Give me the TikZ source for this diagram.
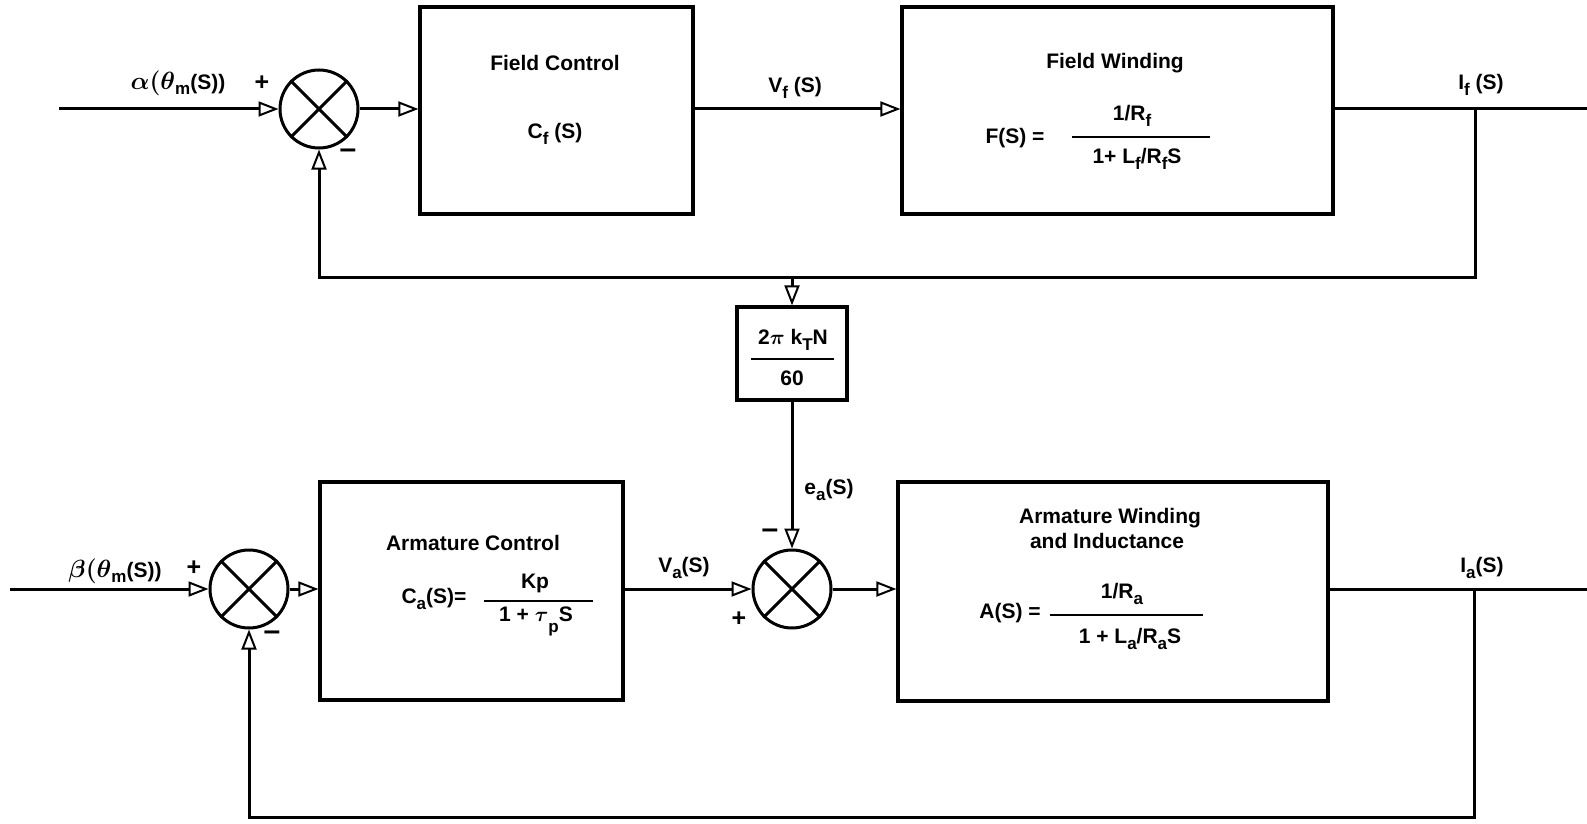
\documentclass[tikz,border=0pt]{standalone}
\usepackage{fontspec}
\setmainfont{Liberation Sans}
\usetikzlibrary{arrows.meta}
\newcommand\mysub[1]{\raisebox{-0.5ex}{\fontsize{17}{17}\selectfont #1}}
\newcommand\minussign{{\fontsize{30}{30}\selectfont\bfseries –}}
\newcommand\plussign{{\fontsize{25}{25}\selectfont\bfseries +}}
\begin{document}
\begin{tikzpicture}[x=1pt,y=-1pt,
  line width=3pt,
  txt/.style={font=\fontsize{21}{25}\selectfont\bfseries\boldmath, inner sep=0pt},
  blk/.style={draw, line width=3.2pt, inner sep=0pt},
  sumj/.style={draw, circle, line width=3pt, minimum size=78pt, inner sep=0pt},
  arr/.style={-{Triangle[open, length=20pt, width=15pt, line width=2pt]}},
  fracline/.style={line width=2.2pt}
]
\useasboundingbox (0,0) rectangle (1587,824);

% ---------- blocks ----------
\node[blk, minimum width=273pt, minimum height=207pt] (fc) at (556.5,110.5) {};
\node[blk, minimum width=431pt, minimum height=207pt] (fw) at (1117.5,110.5) {};
\node[blk, minimum width=110pt, minimum height=93pt] (gain) at (792,353.5) {};
\node[blk, minimum width=303pt, minimum height=218pt] (ac) at (471.5,591) {};
\node[blk, minimum width=430pt, minimum height=219pt] (aw) at (1113,591.5) {};

% ---------- summing junctions ----------
\node[sumj] (s1) at (319,109) {};
\node[sumj] (s2) at (792,589) {};
\node[sumj] (s3) at (249,589) {};
\foreach \s in {s1,s2,s3}{
  \draw (\s.north west) -- (\s.south east);
  \draw (\s.north east) -- (\s.south west);
}

% ---------- coordinates ----------
\coordinate (in1) at (59,109);
\coordinate (out1) at (1587,109);
\coordinate (br1) at (1475,109);
\coordinate (fb1) at (1475,277);
\coordinate (tap) at (792,277);
\coordinate (in3) at (10,589);
\coordinate (out3) at (1587,589);
\coordinate (br3) at (1474,589);
\coordinate (fb3) at (1474,817);

% ---------- connectors ----------
\draw[arr] (in1) -- (s1.west);
\draw[arr] (s1.east) -- (s1.east -| fc.west);
\draw[arr] (fc.east |- s1) -- (fw.west |- s1);
\draw (fw.east |- s1) -- (out1);
\draw[arr] (br1) -- (fb1) -- (fb1 -| s1) -- (s1.south);
\draw[arr] (tap) -- (gain.north);
\draw[arr] (gain.south) -- (s2.north);
\draw[arr] (in3) -- (s3.west);
\draw[arr] (s3.east) -- (s3.east -| ac.west);
\draw[arr] (ac.east |- s3) -- (s2.west);
\draw[arr] (s2.east) -- (s2.east -| aw.west);
\draw (aw.east |- s3) -- (out3);
\draw[arr] (br3) -- (fb3) -- (fb3 -| s3) -- (s3.south);

% ---------- signs and signal labels ----------
\node[txt] (lalpha) at (178,83) {{\fontsize{24}{26}\selectfont$\alpha(\theta$}\mysub{m}(S))};
\node[txt] (p1) at (262,83) {\plussign};
\node[txt] (m1) at (348,154) {\minussign};
\node[txt] (lvf) at (795,88) {V\mysub{f} (S)};
\node[txt] (lif) at (1481,85) {I\mysub{f} (S)};
\node[txt] (lea) at (829,490) {e\mysub{a}(S)};
\node[txt] (m2) at (770,534) {\minussign};
\node[txt] (p2) at (739,619) {\plussign};
\node[txt] (lbeta) at (115,571) {{\fontsize{24}{26}\selectfont$\beta(\theta$}\mysub{m}(S))};
\node[txt] (p3) at (194,568) {\plussign};
\node[txt] (m3) at (272,636) {\minussign};
\node[txt] (lva) at (684,568) {V\mysub{a}(S)};
\node[txt] (lia) at (1482,568) {I\mysub{a}(S)};

% ---------- Field Control ----------
\node[txt] (fct) at (555,63) {Field Control};
\node[txt] (fcf) at (555,134) {C\mysub{f} (S)};

% ---------- Field Winding ----------
\node[txt] (fwt) at (1115,63) {Field Winding};
\node[txt] (fwf) at (1015,138) {F(S) =};
\node[txt] (fwn) at (1132,116) {1/R\mysub{f}};
\node[txt] (fwd) at (1137,159) {1+ L\mysub{f}/R\mysub{f}S};
\coordinate (fwl1) at (1072,137);
\coordinate (fwl2) at (1210,137);
\draw[fracline] (fwl1) -- (fwl2);

% ---------- Gain ----------
\node[txt] (gn) at (793,340) {2$\pi$ k\mysub{T}N};
\node[txt] (gd) at (792,378) {60};
\coordinate (gl1) at (751,359);
\coordinate (gl2) at (834,359);
\draw[fracline] (gl1) -- (gl2);

% ---------- Armature Control ----------
\node[txt] (act) at (473,543) {Armature Control};
\node[txt] (acf) at (434,599) {C\mysub{a}(S)=};
\node[txt] (acn) at (535,583) {Kp};
\node[txt] (acd) at (536,621) {1 + $\tau$\mysub{\raisebox{-0.6ex}{p}}S};
\coordinate (acl1) at (484,601);
\coordinate (acl2) at (593,601);
\draw[fracline] (acl1) -- (acl2);

% ---------- Armature Winding ----------
\node[txt] (awt) at (1110,518) {Armature Winding};
\node[txt] (awt2) at (1107,541) {and Inductance};
\node[txt] (awf) at (1010,613) {A(S) =};
\node[txt] (awn) at (1122,594) {1/R\mysub{a}};
\node[txt] (awd) at (1130,639) {1 + L\mysub{a}/R\mysub{a}S};
\coordinate (awl1) at (1050,615);
\coordinate (awl2) at (1203,615);
\draw[fracline] (awl1) -- (awl2);
\end{tikzpicture}
\end{document}
